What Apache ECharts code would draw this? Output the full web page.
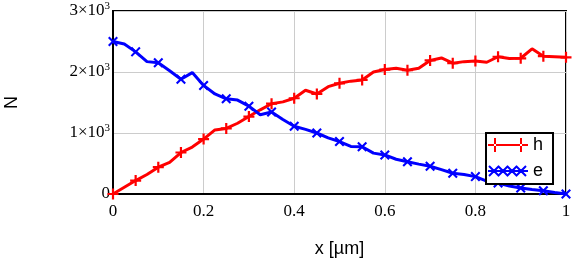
<!DOCTYPE html>
<html>
<head>
<meta charset="utf-8">
<script src="https://cdn.jsdelivr.net/npm/echarts@6/dist/echarts.min.js"></script>
<style>
html,body{margin:0;padding:0;background:#fff;}
#c{width:582px;height:263px;}
</style>
</head>
<body>
<div id="c"></div>
<script>
// x positions (µm)
const xValues = [0,0.025,0.05,0.075,0.1,0.125,0.15,0.175,0.2,0.225,0.25,0.275,0.3,0.325,0.35,0.375,0.4,0.425,0.45,0.475,0.5,0.525,0.55,0.575,0.6,0.625,0.65,0.675,0.7,0.725,0.75,0.775,0.8,0.825,0.85,0.875,0.9,0.925,0.95,0.975,1.0];
// holes (h)
const hValues = [0,110,220,320,440,520,680,770,900,1050,1075,1160,1270,1380,1480,1510,1570,1700,1640,1760,1815,1850,1870,2000,2040,2060,2030,2060,2190,2230,2145,2170,2180,2160,2250,2220,2225,2380,2260,2250,2240];
// electrons (e)
const eValues = [2500,2460,2330,2170,2150,2020,1880,1990,1780,1640,1560,1540,1440,1300,1345,1220,1110,1060,1000,920,860,780,775,670,640,570,530,490,455,400,340,320,285,210,180,130,100,75,55,25,0];
const yTicks = [0,1000,2000,3000];
const seriesNames = ['h','e'];

const plusPath = 'path://M4,0H6V4H10V6H6V10H4V6H0V4H4Z';
const crossPath = 'path://M0.3,1.7L1.7,0.3L5,3.6L8.3,0.3L9.7,1.7L6.4,5L9.7,8.3L8.3,9.7L5,6.4L1.7,9.7L0.3,8.3L3.6,5Z';
const hIcon = 'path://M0,6L0,8L40,8L40,6ZM6,0L8,0L8,14L6,14ZM32,0L34,0L34,14L32,14Z';
function xIcon(){
  let p = 'path://M0,6L0,8L40,8L40,6Z';
  [6,15,24,33].forEach(c=>{
    p += `M${c-5.7},2.7L${c+4.3},12.7L${c+5.7},11.3L${c-4.3},1.3Z`;
    p += `M${c-4.3},12.7L${c+5.7},2.7L${c+4.3},1.3L${c-5.7},11.3Z`;
  });
  return p;
}

function mk(vals, sym){
  return xValues.map((x,i)=>({value:[x,vals[i]], symbol: (i%2===0)? sym : 'none'}));
}

const chart = echarts.init(document.getElementById('c'));
chart.setOption({
  animation:false,
  backgroundColor:'#fff',
  grid:{left:113,right:16,top:11,bottom:69,show:true,borderColor:'#000',borderWidth:2,containLabel:false,outerBoundsMode:'none'},
  legend:{
    left:486, top:133, orient:'vertical',
    backgroundColor:'#fff', borderColor:'#000', borderWidth:2, borderRadius:0,
    padding:[3,10,4,2], itemWidth:40, itemHeight:14, itemGap:8,
    textStyle:{fontFamily:'Liberation Sans',fontSize:18,color:'#000'},
    data:[{name:'h',icon:hIcon},{name:'e',icon:xIcon()}]
  },
  xAxis:{
    type:'value', min:0, max:1, interval:0.2,
    name:'x [µm]', nameLocation:'middle', nameGap:46,
    nameTextStyle:{fontFamily:'Liberation Sans',fontSize:18,color:'#000'},
    axisLine:{show:true,lineStyle:{color:'#000',width:2}},
    axisTick:{show:false},
    axisLabel:{fontFamily:'Liberation Serif',fontSize:17,color:'#000',margin:9,
      formatter:v=> (v===0||v===1)? String(v) : String(Math.round(v*10)/10)},
    splitLine:{show:true,lineStyle:{color:'#cccccc',width:1}}
  },
  yAxis:{
    type:'value', min:yTicks[0], max:yTicks[yTicks.length-1], interval:1000,
    name:'N', nameLocation:'middle', nameGap:92, nameRotate:90,
    nameTextStyle:{fontFamily:'Liberation Sans',fontSize:18,color:'#000'},
    axisLine:{show:true,lineStyle:{color:'#000',width:2}},
    axisTick:{show:false},
    axisLabel:{margin:3,color:'#000',
      formatter:v=> v===0 ? '{m|0}' : '{m|'+(v/1000)+'×10}{s|3}',
      rich:{m:{fontFamily:'Liberation Serif',fontSize:17,color:'#000'},
            s:{fontFamily:'Liberation Serif',fontSize:11,color:'#000',padding:[0,0,9,0]}}
    },
    splitLine:{show:true,lineStyle:{color:'#cccccc',width:1}}
  },
  series:[
    {name:seriesNames[0], type:'line', data:mk(hValues,plusPath), color:'#ff0000',
     lineStyle:{width:3,color:'#ff0000'}, itemStyle:{color:'#ff0000'},
     symbolSize:11, showSymbol:true, showAllSymbol:true},
    {name:seriesNames[1], type:'line', data:mk(eValues,crossPath), color:'#0000ff',
     lineStyle:{width:3,color:'#0000ff'}, itemStyle:{color:'#0000ff'},
     symbolSize:10, showSymbol:true, showAllSymbol:true}
  ]
});
</script>
</body>
</html>
